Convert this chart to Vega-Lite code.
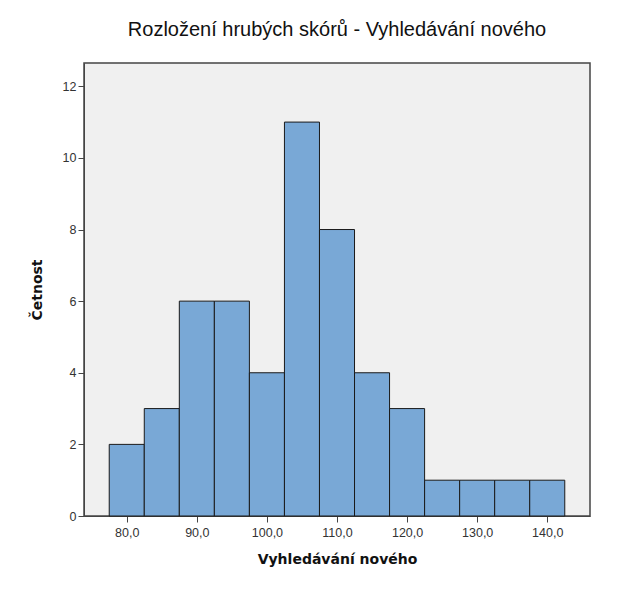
{
  "$schema": "https://vega.github.io/schema/vega-lite/v6.json",
  "width": 506,
  "height": 453,
  "autosize": {"type": "none"},
  "padding": {"left": 84, "top": 63, "right": 50, "bottom": 81},
  "background": "white",
  "title": {
    "text": "Rozložení hrubých skórů - Vyhledávání nového",
    "font": "Liberation Sans",
    "fontSize": 20,
    "fontWeight": "normal",
    "color": "#111",
    "anchor": "middle",
    "offset": 23
  },
  "data": {
    "values": [
      {"bin_start": 77.5, "bin_end": 82.5, "count": 2},
      {"bin_start": 82.5, "bin_end": 87.5, "count": 3},
      {"bin_start": 87.5, "bin_end": 92.5, "count": 6},
      {"bin_start": 92.5, "bin_end": 97.5, "count": 6},
      {"bin_start": 97.5, "bin_end": 102.5, "count": 4},
      {"bin_start": 102.5, "bin_end": 107.5, "count": 11},
      {"bin_start": 107.5, "bin_end": 112.5, "count": 8},
      {"bin_start": 112.5, "bin_end": 117.5, "count": 4},
      {"bin_start": 117.5, "bin_end": 122.5, "count": 3},
      {"bin_start": 122.5, "bin_end": 127.5, "count": 1},
      {"bin_start": 127.5, "bin_end": 132.5, "count": 1},
      {"bin_start": 132.5, "bin_end": 137.5, "count": 1},
      {"bin_start": 137.5, "bin_end": 142.5, "count": 1}
    ]
  },
  "mark": {"type": "rect", "fill": "#79a8d6", "stroke": "#1a1a1a", "strokeWidth": 1},
  "encoding": {
    "x": {
      "field": "bin_start",
      "type": "quantitative",
      "scale": {"domain": [73.9, 146.1], "nice": false, "zero": false},
      "axis": {
        "title": "Vyhledávání nového",
        "values": [80, 90, 100, 110, 120, 130, 140],
        "labelExpr": "replace(format(datum.value, '.1f'), '.', ',')",
        "grid": false,
        "tickSize": 6,
        "domainColor": "#444",
        "tickColor": "#444",
        "labelFont": "Liberation Sans",
        "labelFontSize": 12.5,
        "labelColor": "#333",
        "labelPadding": 4,
        "titleFont": "DejaVu Sans",
        "titleFontSize": 14,
        "titleFontWeight": "bold",
        "titleColor": "#111",
        "titlePadding": 14
      }
    },
    "x2": {"field": "bin_end"},
    "y": {
      "field": "count",
      "type": "quantitative",
      "scale": {"domain": [0, 12.65], "nice": false},
      "axis": {
        "title": "Četnost",
        "values": [0, 2, 4, 6, 8, 10, 12],
        "grid": false,
        "tickSize": 6,
        "domainColor": "#444",
        "tickColor": "#444",
        "labelFont": "Liberation Sans",
        "labelFontSize": 12.5,
        "labelColor": "#333",
        "labelPadding": 2,
        "titleFont": "DejaVu Sans",
        "titleFontSize": 14,
        "titleFontWeight": "bold",
        "titleColor": "#111",
        "titlePadding": 18
      }
    },
    "y2": {"datum": 0}
  },
  "config": {
    "view": {"fill": "#f0f0f0", "stroke": "#444", "strokeWidth": 1.5}
  }
}
